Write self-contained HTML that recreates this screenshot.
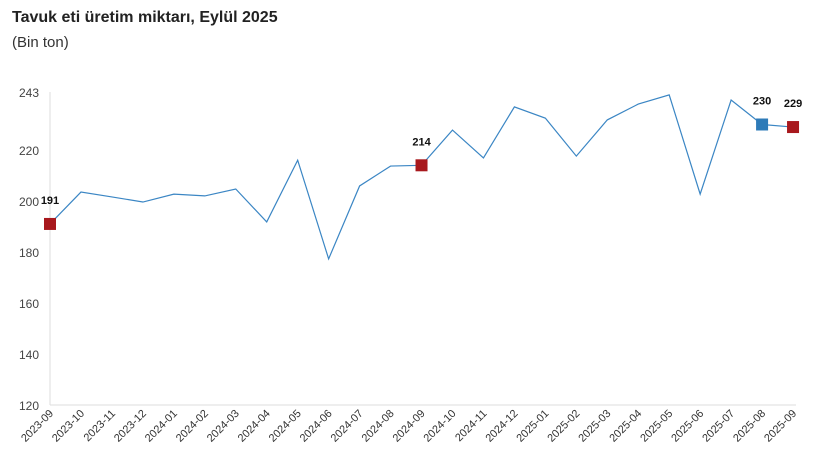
<!DOCTYPE html>
<html><head><meta charset="utf-8"><style>
body{margin:0;background:#fff;width:820px;height:469px;overflow:hidden}
</style></head><body>
<svg width="820" height="469" xmlns="http://www.w3.org/2000/svg" font-family="'Liberation Sans', sans-serif">
<text x="12" y="22" font-size="16" font-weight="bold" fill="#222">Tavuk eti üretim miktarı, Eylül 2025</text>
<text x="12" y="47" font-size="15" fill="#333">(Bin ton)</text>
<line x1="50" y1="92" x2="50" y2="405" stroke="#ddd"/>
<line x1="50" y1="405" x2="796" y2="405" stroke="#ddd"/>
<g font-size="12" fill="#444" text-anchor="end">
<text x="39" y="97">243</text><text x="39" y="155">220</text><text x="39" y="206">200</text>
<text x="39" y="257">180</text><text x="39" y="308">160</text><text x="39" y="359">140</text><text x="39" y="410">120</text>
</g>
<g font-size="11" fill="#333" text-anchor="end" id="xl"></g>
<polyline id="ln" fill="none" stroke="#3b86c4" stroke-width="1.2"/>
<g id="mk"></g>
</svg>
<script>
var v=[191,203.5,201.6,199.6,202.7,202,204.7,191.8,216,177.3,205.9,213.7,214,227.8,216.9,236.9,232.5,217.6,231.8,238,241.6,202.7,239.6,230,229];
var lab=[];for(var y=2023,m=9;lab.length<25;){lab.push(y+"-"+(m<10?"0":"")+m);m++;if(m>12){m=1;y++;}}
var X=i=>50+i*30.96,Y=d=>405-(d-120)*2.55;
var ns="http://www.w3.org/2000/svg";
document.getElementById('ln').setAttribute('points',v.map((d,i)=>X(i)+","+Y(d)).join(" "));
var xl=document.getElementById('xl');
lab.forEach((l,i)=>{var t=document.createElementNS(ns,'text');t.setAttribute('transform','translate('+(X(i)+4)+',414) rotate(-45)');t.textContent=l;xl.appendChild(t);});
var mk=document.getElementById('mk');
[[0,'#a8181d','191'],[12,'#a8181d','214'],[23,'#2e7bb8','230'],[24,'#a8181d','229']].forEach(a=>{
var x=X(a[0]),y=Y(v[a[0]]);var r=document.createElementNS(ns,'rect');
r.setAttribute('x',x-6);r.setAttribute('y',y-6);r.setAttribute('width',12);r.setAttribute('height',12);r.setAttribute('fill',a[1]);mk.appendChild(r);
var t=document.createElementNS(ns,'text');t.setAttribute('x',x);t.setAttribute('y',y-20);t.setAttribute('font-size','11');t.setAttribute('font-weight','bold');t.setAttribute('text-anchor','middle');t.setAttribute('fill','#111');t.textContent=a[2];mk.appendChild(t);});
</script>
</body></html>
